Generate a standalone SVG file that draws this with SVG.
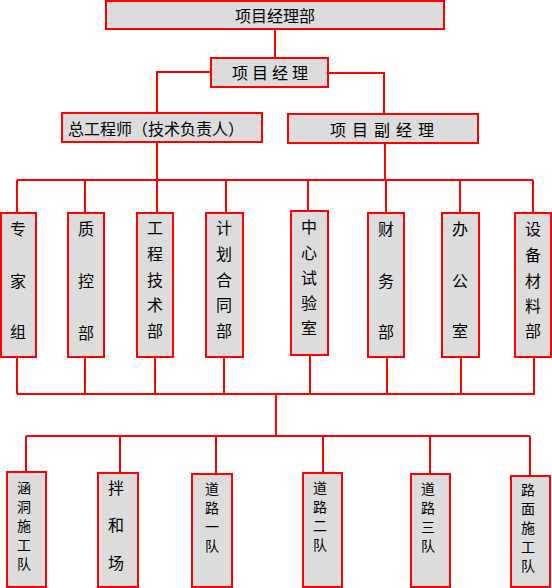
<svg xmlns="http://www.w3.org/2000/svg" width="552" height="588" viewBox="0 0 552 588">
<style>
.b{fill:#DCDCDC;stroke:#FF0000;stroke-width:2}
.c{fill:none;stroke:#FF0000;stroke-width:2}
text{font-family:"Noto Sans CJK SC","Noto Sans",sans-serif;font-size:16px;fill:#000;text-anchor:middle;dominant-baseline:central}
.s{font-size:14px}
</style>
<rect width="552" height="588" fill="#FFFFFF"/>
<g id="connectors">
<path class="c" d="M275 29V58M211 72H157V113M328 73H384V114M157 142V180M385 143V180M17 180H533M17 180V213M85 180V213M157 180V213M226 180V213M308 180V211M386 180V213M460 180V213M533 180V213"/>
<path class="c" d="M17 357V394M85 357V394M155 357V394M224 357V394M310 355V394M387 357V394M461 357V394M534 357V394M17 394H535M276 394V436M26 436H530M26 436V472M120 436V473M216 436V474M323 436V473M430 436V474M530 436V476"/>
</g>
<g id="n-top"><rect class="b" x="106" y="1" width="338" height="28"/><text x="275" y="15">项目经理部</text></g>
<g id="n-pm"><rect class="b" x="211" y="58" width="117" height="29"/><text x="272" y="72" letter-spacing="4">项目经理</text></g>
<g id="n-chief"><rect class="b" x="62" y="113" width="200" height="29"/><text x="156" y="128" font-size="15">总工程师（技术负责人）</text></g>
<g id="n-vice"><rect class="b" x="288" y="114" width="190" height="29"/><text x="385" y="129" letter-spacing="6">项目副经理</text></g>
<g id="n1"><rect class="b" x="1" y="213" width="35" height="144"/><text x="18"><tspan x="18" y="228">专</tspan><tspan x="18" y="280">家</tspan><tspan x="18" y="331">组</tspan></text></g>
<g id="n2"><rect class="b" x="68" y="213" width="36" height="144"/><text><tspan x="86" y="228">质</tspan><tspan x="86" y="280">控</tspan><tspan x="86" y="332">部</tspan></text></g>
<g id="n3"><rect class="b" x="137" y="213" width="36" height="144"/><text><tspan x="155" y="227">工</tspan><tspan x="155" y="253">程</tspan><tspan x="155" y="279">技</tspan><tspan x="155" y="304">术</tspan><tspan x="155" y="330">部</tspan></text></g>
<g id="n4"><rect class="b" x="206" y="213" width="37" height="144"/><text><tspan x="224" y="227">计</tspan><tspan x="224" y="253">划</tspan><tspan x="224" y="279">合</tspan><tspan x="224" y="304">同</tspan><tspan x="224" y="330">部</tspan></text></g>
<g id="n5"><rect class="b" x="291" y="211" width="37" height="144"/><text><tspan x="309" y="226">中</tspan><tspan x="309" y="252">心</tspan><tspan x="309" y="277">试</tspan><tspan x="309" y="302">验</tspan><tspan x="309" y="327">室</tspan></text></g>
<g id="n6"><rect class="b" x="368" y="213" width="36" height="144"/><text><tspan x="386" y="228">财</tspan><tspan x="386" y="280">务</tspan><tspan x="386" y="331">部</tspan></text></g>
<g id="n7"><rect class="b" x="442" y="213" width="37" height="144"/><text><tspan x="460" y="228">办</tspan><tspan x="460" y="280">公</tspan><tspan x="460" y="330">室</tspan></text></g>
<g id="n8"><rect class="b" x="515" y="213" width="36" height="144"/><text><tspan x="533" y="228">设</tspan><tspan x="533" y="254">备</tspan><tspan x="533" y="280">材</tspan><tspan x="533" y="305">料</tspan><tspan x="533" y="330">部</tspan></text></g>
<g id="t1"><rect class="b" x="7" y="472" width="39" height="115"/><text class="s"><tspan x="24" y="487">涵</tspan><tspan x="24" y="506">洞</tspan><tspan x="24" y="525">施</tspan><tspan x="24" y="544">工</tspan><tspan x="24" y="563">队</tspan></text></g>
<g id="t2"><rect class="b" x="98" y="473" width="40" height="114"/><text><tspan x="116" y="487">拌</tspan><tspan x="116" y="524">和</tspan><tspan x="116" y="562">场</tspan></text></g>
<g id="t3"><rect class="b" x="192" y="474" width="40" height="113"/><text class="s"><tspan x="212" y="488">道</tspan><tspan x="212" y="507">路</tspan><tspan x="212" y="526">一</tspan><tspan x="212" y="545">队</tspan></text></g>
<g id="t4"><rect class="b" x="303" y="473" width="39" height="114"/><text class="s"><tspan x="320" y="487">道</tspan><tspan x="320" y="506">路</tspan><tspan x="320" y="525">二</tspan><tspan x="320" y="544">队</tspan></text></g>
<g id="t5"><rect class="b" x="411" y="474" width="39" height="113"/><text class="s"><tspan x="428" y="488">道</tspan><tspan x="428" y="507">路</tspan><tspan x="428" y="526">三</tspan><tspan x="428" y="545">队</tspan></text></g>
<g id="t6"><rect class="b" x="511" y="476" width="39" height="111"/><text class="s"><tspan x="528" y="489">路</tspan><tspan x="528" y="508">面</tspan><tspan x="528" y="527">施</tspan><tspan x="528" y="546">工</tspan><tspan x="528" y="565">队</tspan></text></g>
</svg>
